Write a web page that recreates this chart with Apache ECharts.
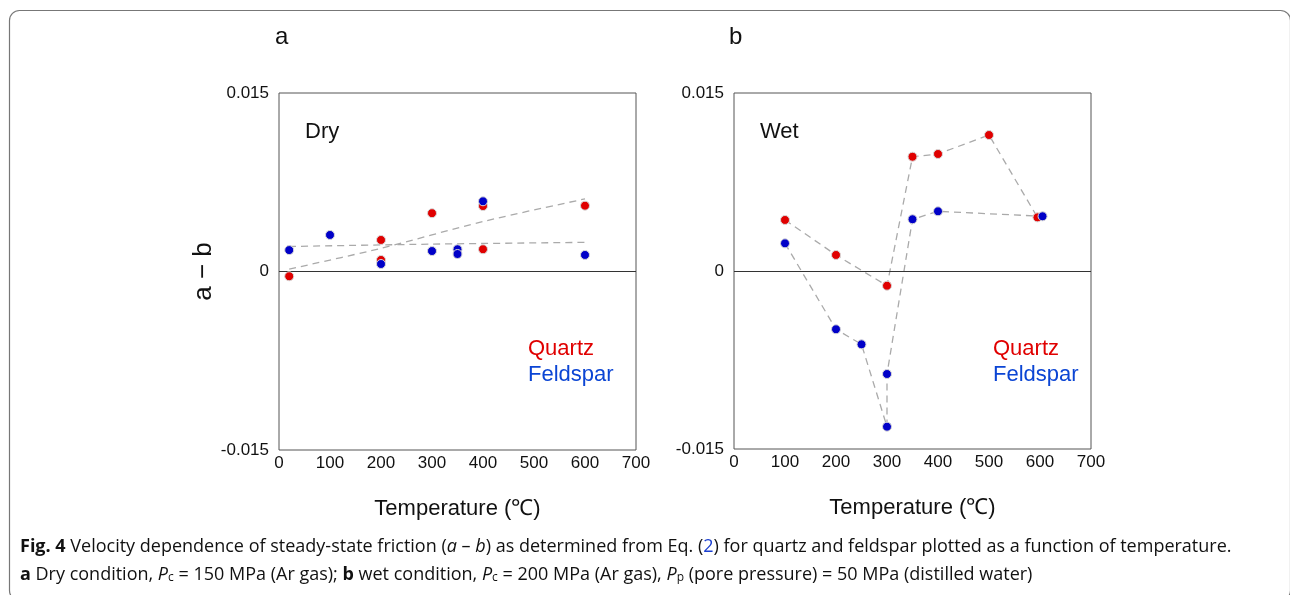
<!DOCTYPE html>
<html>
<head>
<meta charset="utf-8">
<script src="https://cdn.jsdelivr.net/npm/echarts@6/dist/echarts.min.js"></script>
<style>
  html, body { margin: 0; padding: 0; background: #fff; }
  #chart { width: 1290px; height: 595px; }
</style>
</head>
<body>
<div id="chart"></div>
<script>
// panel a: dry
const dryQuartz = [[20, -0.0004], [200, 0.00265], [200, 0.00097], [300, 0.0049], [400, 0.0055], [400, 0.00187], [600, 0.00553]]
const dryFeldspar = [[20, 0.0018], [100, 0.00307], [200, 0.00063], [300, 0.00172], [350, 0.00187], [350, 0.00147], [400, 0.0059], [600, 0.00139]]
const dryTrendQuartz = [[20, 0.0002], [200, 0.00195], [400, 0.0042], [600, 0.0061]]
const dryTrendFeldspar = [[20, 0.0021], [300, 0.0023], [600, 0.00245]]

// panel b: wet
const wetQuartz = [[100, 0.0043], [200, 0.00135], [300, -0.00124], [350, 0.00963], [400, 0.00986], [500, 0.01146], [595, 0.00452]]
const wetFeldspar = [[100, 0.00233], [200, -0.00491], [250, -0.00618], [300, -0.01312], [300, -0.00868], [350, 0.00436], [400, 0.00503], [605, 0.00461]]

const xTicks = [0, 100, 200, 300, 400, 500, 600, 700]
const yTicks = [-0.015, 0, 0.015]

const RED = '#e00000'
const BLUE = '#0000c8'
const FONT = 'Liberation Sans, Arial, sans-serif'
const CAP_FONT = 'Open Sans, sans-serif'
const CAP_SIZE = 18

const myEchart = echarts.init(document.getElementById('chart'))

const makeX = (i) => ({
  type: 'value', gridIndex: i, min: 0, max: 700, interval: 100,
  name: 'Temperature (℃)', nameLocation: 'middle', nameGap: 48,
  nameTextStyle: {fontFamily: FONT, fontSize: 22, color: '#111'},
  axisLine: {show: false}, axisTick: {show: false}, splitLine: {show: false},
  axisLabel: {
    fontFamily: FONT, fontSize: 17, color: '#111', margin: 5,
    formatter: v => xTicks.includes(v) ? String(v) : ''
  }
})
const makeY = (i) => ({
  type: 'value', gridIndex: i, min: -0.015, max: 0.015, interval: 0.015,
  name: i === 0 ? 'a − b' : '', nameLocation: 'middle', nameGap: 58, nameRotate: 90,
  nameTextStyle: {fontFamily: FONT, fontSize: 26, color: '#111'},
  axisLine: {show: false}, axisTick: {show: false}, splitLine: {show: false},
  axisLabel: {
    fontFamily: FONT, fontSize: 17, color: '#111', margin: 10,
    formatter: v => yTicks.includes(+v.toFixed(3)) ? String(+v.toFixed(3)) : ''
  }
})

const dots = (name, data, color, i) => ({
  name, type: 'scatter', data, xAxisIndex: i, yAxisIndex: i,
  symbolSize: 9, z: 5,
  itemStyle: {color, borderColor: '#d8d8d8', borderWidth: 1, opacity: 1}
})
const dashed = (data, i, smooth) => ({
  type: 'line', data, xAxisIndex: i, yAxisIndex: i, smooth: smooth || false,
  symbol: 'none', z: 2, silent: true,
  lineStyle: {color: '#aaaaaa', width: 1.3, type: [7, 5]}
})
const zeroLine = (i) => ({
  type: 'line', data: [], xAxisIndex: i, yAxisIndex: i, silent: true,
  markLine: {
    symbol: 'none', silent: true, label: {show: false},
    lineStyle: {color: '#333', width: 1, type: 'solid'},
    data: [{yAxis: 0}]
  }
})

const txt = (x, y, text, size, color) => ({
  type: 'text', left: x, top: y,
  style: {text, fontFamily: FONT, fontSize: size, fill: color || '#111'}
})

const capRich = {
  b: {fontWeight: 'bold', fontFamily: CAP_FONT, fontSize: CAP_SIZE, fill: '#111'},
  i: {fontStyle: 'italic', fontFamily: CAP_FONT, fontSize: CAP_SIZE, fill: '#111'},
  s: {fontFamily: CAP_FONT, fontSize: 12, fill: '#111', verticalAlign: 'bottom', padding: [6, 0, 0, 0]},
  l: {fontFamily: CAP_FONT, fontSize: CAP_SIZE, fill: '#1a3fd0'}
}
const capStyle = (text) => ({
  text, rich: capRich,
  fontFamily: CAP_FONT, fontSize: CAP_SIZE, fill: '#111'
})

myEchart.setOption({
  animation: false,
  backgroundColor: '#fff',
  grid: [
    {left: 279, top: 93, width: 357, height: 357, show: true, borderColor: '#555', borderWidth: 1, backgroundColor: 'transparent'},
    {left: 734, top: 93, width: 357, height: 356, show: true, borderColor: '#555', borderWidth: 1, backgroundColor: 'transparent'}
  ],
  xAxis: [makeX(0), makeX(1)],
  yAxis: [makeY(0), makeY(1)],
  series: [
    zeroLine(0), zeroLine(1),
    dashed(dryTrendQuartz, 0, 0.3),
    dashed(dryTrendFeldspar, 0, 0.3),
    dashed(wetQuartz, 1),
    dashed(wetFeldspar, 1),
    dots('Quartz', dryQuartz, RED, 0),
    dots('Feldspar', dryFeldspar, BLUE, 0),
    dots('Quartz', wetQuartz, RED, 1),
    dots('Feldspar', wetFeldspar, BLUE, 1)
  ],
  graphic: [
    {
      type: 'rect', left: 7, top: 8, silent: true,
      shape: {width: 1281, height: 590, r: 10},
      style: {fill: 'none', stroke: '#777', lineWidth: 1.2}
    },
    txt(275, 25, 'a', 24),
    txt(729, 25, 'b', 24),
    txt(305, 121, 'Dry', 22),
    txt(760, 121, 'Wet', 22),
    txt(528, 338, 'Quartz', 22, RED),
    txt(528, 364, 'Feldspar', 22, '#0b45d4'),
    txt(993, 338, 'Quartz', 22, RED),
    txt(993, 364, 'Feldspar', 22, '#0b45d4'),
    {
      type: 'text', left: 20, top: 538,
      style: capStyle('{b|Fig. 4} Velocity dependence of steady-state friction ({i|a} – {i|b}) as determined from Eq. ({l|2}) for quartz and feldspar plotted as a function of temperature.')
    },
    {
      type: 'text', left: 20, top: 566,
      style: capStyle('{b|a} Dry condition, {i|P}{s|c} = 150 MPa (Ar gas); {b|b} wet condition, {i|P}{s|c} = 200 MPa (Ar gas), {i|P}{s|p} (pore pressure) = 50 MPa (distilled water)')
    }
  ]
})
</script>
</body>
</html>
